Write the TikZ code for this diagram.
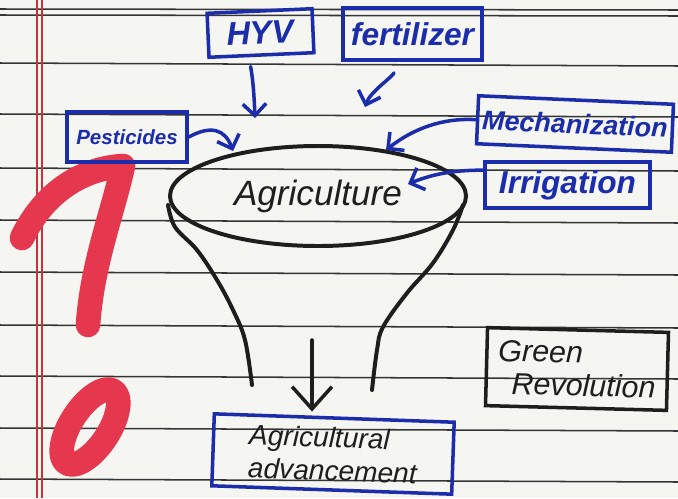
\documentclass[tikz,border=0pt]{standalone}
\usepackage{fontspec}
\setmainfont{Liberation Sans}
\usetikzlibrary{arrows.meta,shapes.geometric}

\definecolor{paper}{HTML}{F5F5F2}
\definecolor{ruling}{HTML}{353535}
\definecolor{ink}{HTML}{1B2DAA}
\definecolor{pen}{HTML}{1E1E1E}
\definecolor{marker}{HTML}{E5384F}
\definecolor{marginred}{HTML}{C8323A}

\newcommand\pxu{0.03cm}
\newcommand\hand[1]{\fontsize{#1}{#1}\selectfont}

\begin{document}
\begin{tikzpicture}[x=0.03cm,y=-0.03cm,
  bluebox/.style={draw=ink, line width=3pt, text=ink, inner sep=0pt},
  blackbox/.style={draw=pen, line width=3pt, text=pen, inner sep=0pt},
  inkarrow/.style={draw=ink, line width=3pt, line cap=round,
    -{Straight Barb[length=10pt,width=20pt]}},
  penarrow/.style={draw=pen, line width=3pt, line cap=round,
    -{Straight Barb[length=19pt,width=34pt]}},
  funnel/.style={draw=pen, line width=3.4pt, line cap=round},
  ruled/.style={draw=ruling, line width=1.3pt},
  redmark/.style={draw=marker, line width=21pt, line cap=round, line join=round}
]
\useasboundingbox (0,0) rectangle (678,498);
\fill[paper] (0,0) rectangle (678,498);

% notebook ruling
\draw[ruled] (0,9) -- (678,10);
\draw[ruled] (0,15) -- (678,16);
\foreach \yy in {63,114,168,220,272,325,376,428,479}
  \draw[ruled] (0,\yy) -- (678,\yy+3);
\draw[marginred, line width=0.9pt] (37,0) -- (37,498);
\draw[marginred, line width=0.9pt] (42,0) -- (42,498);

% red mark in the margin
\draw[redmark] (22,238) .. controls (45,190) and (85,168) .. (123,166)
  .. controls (112,215) and (92,265) .. (88,325);
\draw[redmark, rotate around={57:(90,427)}] (90,427) ellipse [x radius=43, y radius=19];

% inputs
\node[bluebox, minimum width=105*\pxu, minimum height=44*\pxu, rotate=2.5,
  font=\bfseries\itshape\hand{28}] (hyv) at (260.5,33) {HYV};
\node[bluebox, minimum width=139*\pxu, minimum height=52*\pxu,
  font=\bfseries\itshape\hand{27}] (fert) at (412.5,34) {fertilizer};
\node[bluebox, minimum width=120*\pxu, minimum height=50*\pxu,
  font=\bfseries\itshape\hand{17.5}] (pest) at (127,137) {Pesticides};
\node[bluebox, minimum width=195*\pxu, minimum height=48*\pxu, rotate=-2.5,
  font=\bfseries\itshape\hand{23}] (mech) at (575,124) {Mechanization};
\node[bluebox, minimum width=165*\pxu, minimum height=46*\pxu,
  font=\bfseries\itshape\hand{27}] (irr) at (567.5,185) {Irrigation};

% central ellipse
\node[ellipse, draw=pen, line width=3.4pt, minimum width=296*\pxu,
  minimum height=100*\pxu, inner sep=0pt, text=pen,
  font=\itshape\hand{30}] (agri) at (318,196) {Agriculture};

% outcome
\node[bluebox, text=pen, minimum width=240*\pxu, minimum height=72*\pxu, rotate=-2,
  align=left, font=\itshape\fontsize{24}{28}\selectfont] (adv) at (333,454)
  {Agricultural\\advancement};
\node[blackbox, minimum width=181*\pxu, minimum height=78*\pxu, rotate=-1.5,
  align=left, font=\itshape\fontsize{26}{28}\selectfont] (green) at (577,369)
  {Green\\\hspace*{12pt}Revolution};

% arrow ends at the ellipse
\coordinate (tHYV) at (255,118);
\coordinate (tFert) at (365,107);
\coordinate (tPest) at (233,151);
\coordinate (tMech) at (386,150);
\coordinate (tIrr) at (408,184);
\coordinate (fStem) at (312,340);

\draw[inkarrow, shorten <=8pt] (hyv.-118) .. controls +(4,22) and +(-1,-25) .. (tHYV);
\draw[inkarrow, shorten <=10pt] (fert.-118) .. controls +(-5,15) and +(5,-15) .. (tFert);
\draw[inkarrow] (pest.east) .. controls +(22,-12) and +(-8,-22) .. (tPest);
\draw[inkarrow] (mech.west) .. controls +(-32,-2) and +(28,-22) .. (tMech);
\draw[inkarrow] (irr.170) .. controls +(-30,0) and +(25,-10) .. (tIrr);

% funnel walls
\draw[funnel] plot[smooth, tension=0.6] coordinates
  {(168,205) (175,227) (197,250) (217,280) (233,310) (245,340) (252,385)};
\draw[funnel] plot[smooth, tension=0.6] coordinates
  {(463,205) (453,230) (433,263) (407,293) (383,327) (377,350) (372,390)};

% down arrow into the outcome
\draw[penarrow, shorten >=4pt] (fStem) -- (fStem |- adv.north);
\end{tikzpicture}
\end{document}
